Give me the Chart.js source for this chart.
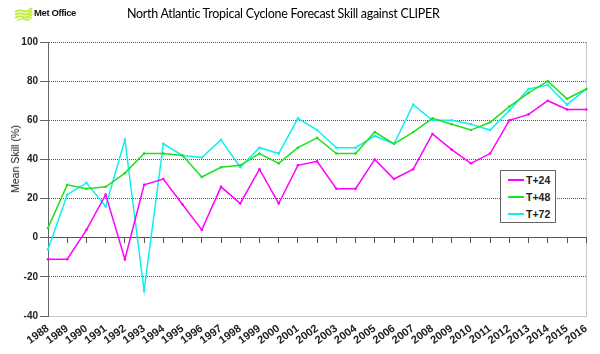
<!DOCTYPE html>
<html>
<head>
<meta charset="utf-8">
<script src="https://cdn.jsdelivr.net/npm/chart.js@4/dist/chart.umd.min.js"></script>
<style>
  body { margin: 0; background: #fff; }
  #wrap { position: relative; width: 600px; height: 354px; overflow: hidden; }
  #logo { position: absolute; left: 14px; top: 7px; }
  #logoTxt { position: absolute; left: 34px; top: 7px; font: bold 9.5px "Liberation Sans", Arial, sans-serif; letter-spacing: -0.4px; color: #111; }
  #title { position: absolute; left: 127px; top: 6px; font: 12.5px Lato, "Liberation Sans", sans-serif; letter-spacing: -0.3px; color: #000; white-space: nowrap; }
  #ytitle { position: absolute; left: 15px; top: 159px; transform: translate(-50%, -50%) rotate(-90deg); font: 10.5px "Liberation Sans", Arial, sans-serif; color: #111; white-space: nowrap; }
  #legend { position: absolute; left: 500px; top: 170px; width: 56px; height: 53px; border: 1px solid #666; background: #fff; box-sizing: border-box; }
  .li { position: absolute; left: 7px; height: 12px; font: bold 10.5px "Liberation Sans", Arial, sans-serif; color: #222; line-height: 12px; white-space: nowrap; }
  .li span.sw { display: inline-block; width: 16px; height: 2px; vertical-align: middle; margin-right: 2px; position: relative; top: -1px; }
</style>
</head>
<body>
<div id="wrap">
  <canvas id="c" width="600" height="354"></canvas>
  <svg id="logo" width="20" height="14" viewBox="0 0 20 14">
    <path d="M1 5 Q5 2 9 4 T18 1" stroke="#c4ec3c" stroke-width="2" fill="none"/>
    <path d="M1 8 Q5 5 9 7 T18 4" stroke="#c4ec3c" stroke-width="2" fill="none"/>
    <path d="M1 11 Q5 8 9 10 T18 7" stroke="#c4ec3c" stroke-width="2" fill="none"/>
    <path d="M3 13.5 Q7 11 11 12.5 T18 10" stroke="#c4ec3c" stroke-width="1.6" fill="none"/>
  </svg>
  <div id="logoTxt">Met Office</div>
  <div id="title">North Atlantic Tropical Cyclone Forecast Skill against CLIPER</div>
  <div id="ytitle">Mean Skill (%)</div>
  <div id="legend"></div>
</div>
<script>
// annees (axe x)
const years = ['1988','1989','1990','1991','1992','1993','1994','1995','1996','1997',
  '1998','1999','2000','2001','2002','2003','2004','2005','2006','2007',
  '2008','2009','2010','2011','2012','2013','2014','2015','2016'];

// skill moyen (%) par echeance
const t24 = [-11, -11, 4, 22, -11, 27, 30, 17, 4, 26, 17.5, 35, 17.5, 37, 39, 25, 25, 40, 30, 35, 53, 45, 38, 43, 60, 63, 70, 65.5, 65.5];
const t48 = [5, 27, 25, 26, 33, 43, 43, 42, 31, 36, 37, 43, 38, 46, 51, 43, 43, 54, 48, 54, 61, 58, 55, 59, 67, 74, 80, 71, 76];
const t72 = [-6, 22, 28, 16, 50, -27, 48, 42, 41, 50, 36, 46, 43, 61, 55, 46, 46, 52, 48, 68, 60, 60, 58, 55, 65, 76, 78, 68, 76];

const seriesNames = ['T+24', 'T+48', 'T+72'];
const seriesColors = ['#ff00ff', '#1fe01f', '#11eeee'];
const yTicks = [-40, -20, 0, 20, 40, 60, 80, 100];

function mkSet(label, data, color) {
  return {
    label: label, data: data,
    borderColor: color, backgroundColor: color,
    borderWidth: 1.5, pointRadius: 1.3, pointHoverRadius: 2,
    pointBorderWidth: 0, tension: 0
  };
}

const yFont = { family: '"Liberation Sans", Arial, sans-serif', size: 10, weight: 'bold' };
const xFont = { family: '"Liberation Sans", Arial, sans-serif', size: 11, weight: 'bold' };

new Chart(document.getElementById('c').getContext('2d'), {
  type: 'line',
  data: {
    labels: years,
    datasets: [
      mkSet(seriesNames[0], t24, seriesColors[0]),
      mkSet(seriesNames[1], t48, seriesColors[1]),
      mkSet(seriesNames[2], t72, seriesColors[2])
    ]
  },
  options: {
    responsive: false, animation: false,
    layout: { padding: { left: 0, right: 12, top: 42, bottom: 0 } },
    plugins: { legend: { display: false }, title: { display: false }, tooltip: { enabled: false } },
    scales: {
      x: {
        type: 'category', offset: false, position: 'bottom',
        grid: {
          drawTicks: false,
          color: function(ctx) { return ctx.index === years.length - 1 ? '#c8c8c8' : 'transparent'; }
        },
        border: { color: '#c8c8c8', width: 1 },
        ticks: { autoSkip: false, minRotation: 36, maxRotation: 36, padding: 6, color: '#222', font: xFont },
        afterFit: function(s) { s.height = 38; }
      },
      x0: {
        type: 'category', offset: false, position: { y: 0 },
        grid: { drawOnChartArea: false, drawTicks: true, tickLength: 5, tickColor: '#555', color: '#555' },
        border: { color: '#555', width: 1 },
        ticks: { display: false }
      },
      y: {
        min: -40, max: 100,
        afterBuildTicks: function(s) { s.ticks = yTicks.map(function(v) { return { value: v }; }); },
        grid: {
          drawTicks: true, tickLength: 8,
          color: function(ctx) { return ctx.tick && ctx.tick.value === -40 ? 'transparent' : '#555'; },
          tickColor: '#666'
        },
        border: { color: '#666', width: 1, dash: [1, 1] },
        ticks: { padding: 2, color: '#222', font: yFont },
        afterFit: function(s) { s.width = 48; }
      }
    }
  }
});

// legende HTML
const leg = document.getElementById('legend');
seriesNames.forEach(function(n, i) {
  const d = document.createElement('div');
  d.className = 'li';
  d.style.top = (3 + i * 17) + 'px';
  d.innerHTML = '<span class="sw" style="background:' + seriesColors[i] + '"></span>' + n;
  leg.appendChild(d);
});
</script>
</body>
</html>
